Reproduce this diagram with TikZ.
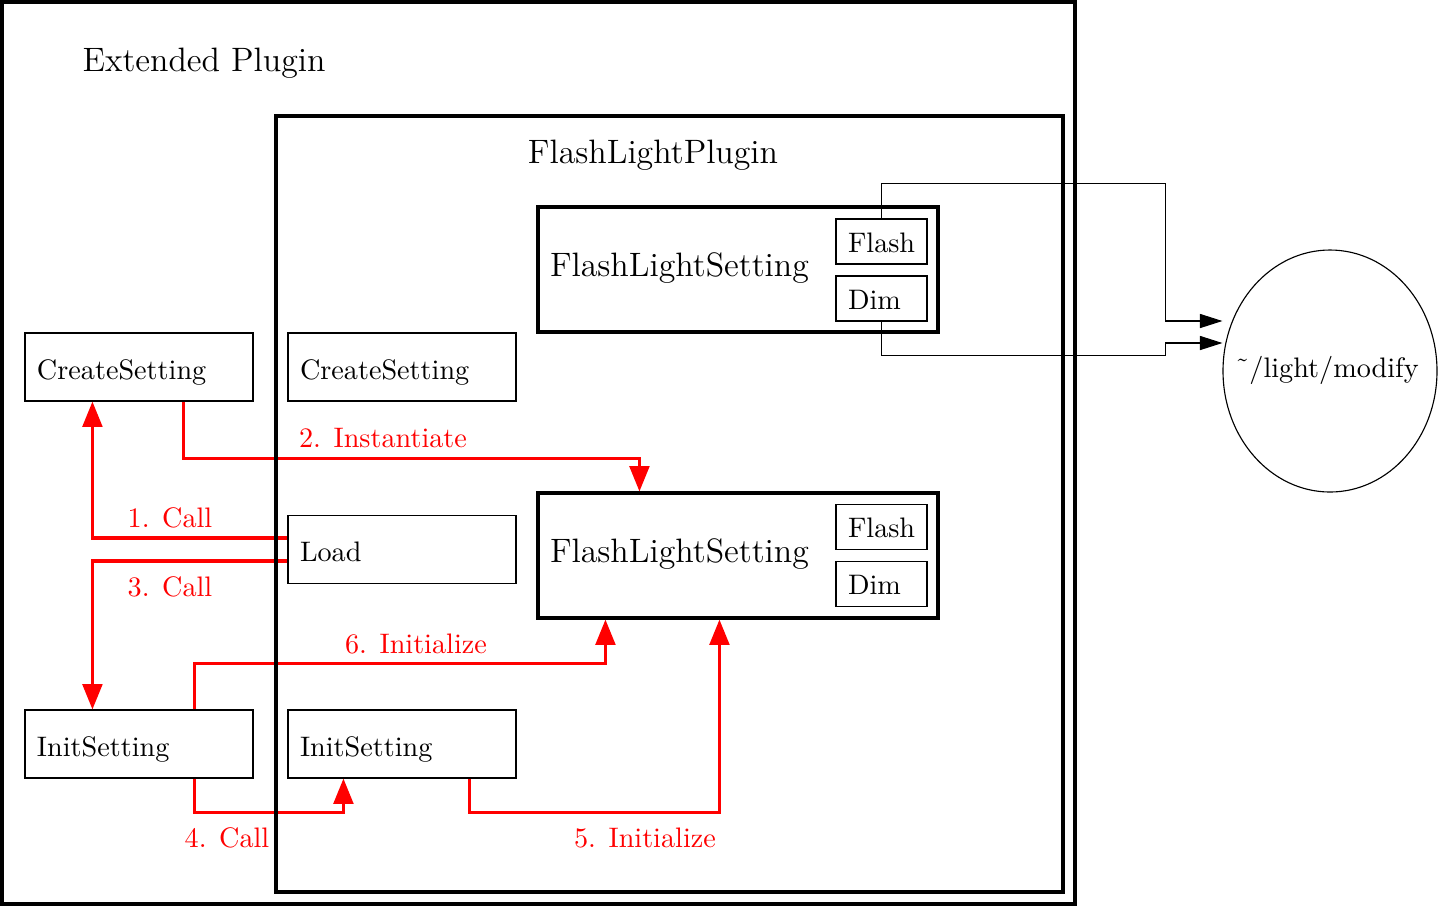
\documentclass[tikz,border=0pt]{standalone}
\usetikzlibrary{arrows.meta,calc,shapes.geometric}
\def\PX{0.3546pt}
\tikzset{
  box/.style={draw, line width=0.4pt, rectangle, inner sep=0pt, inner xsep=12*\PX,
    text width=204*\PX, align=left, minimum height=68*\PX, text height=9pt, text depth=0.5pt},
  flsbox/.style={draw, line width=1.1pt, rectangle, minimum width=400*\PX, minimum height=125*\PX, inner sep=0pt},
  smallbox/.style={draw, line width=0.4pt, rectangle, inner sep=0pt, inner xsep=12*\PX,
    text width=67*\PX, align=left, minimum height=45*\PX, text height=8pt, text depth=0.5pt},
  bigbox/.style={draw, line width=1.1pt, rectangle, inner sep=0pt},
  redarr/.style={draw=red, line width=1.1pt, -{Triangle[length=9pt,width=7pt]}},
  blkarr/.style={draw=black, line width=0.4pt, -{Triangle[length=8pt,width=5pt]}},
  redlbl/.style={text=red, inner sep=0pt},
}
\begin{document}
\begin{tikzpicture}[x=0.3546pt,y=-0.3546pt]
\useasboundingbox (0,0) rectangle (1439,906);
% setting boxes
\node[flsbox] (fls1) at (738,269.5) {};
\node[anchor=west, inner sep=0pt, font=\large] (fls1t) at ($(fls1.west)+(13,-1)$) {FlashLightSetting};
\node[smallbox] (flash1) at (881.5,241.5) {Flash};
\node[smallbox] (dim1) at (881.5,298.5) {Dim};
\node[flsbox] (fls2) at (738,555.5) {};
\node[anchor=west, inner sep=0pt, font=\large] (fls2t) at ($(fls2.west)+(13,-1)$) {FlashLightSetting};
\node[smallbox] (flash2) at (881.5,527) {Flash};
\node[smallbox] (dim2) at (881.5,584) {Dim};
% method boxes
\node[box] (cs1) at (139,367) {CreateSetting};
\node[box] (cs2) at (402,367) {CreateSetting};
\node[box] (load) at (402,549.5) {Load};
\node[box] (is1) at (139,744) {InitSetting};
\node[box] (is2) at (402,744) {InitSetting};
% topic
\node[draw, ellipse, line width=0.4pt, minimum width=214*\PX, minimum height=242*\PX, inner sep=0pt] (ell) at (1330,371) {};
\node[inner sep=0pt] (ellt) at (1327,370) {\symbol{"02DC}/light/modify};
% black connectors
\draw[blkarr] (flash1.north) -- ++(0,-35) -| ($(ell.west)+(-57,-50)$) -- ($(ell.west)+(0,-50)$);
\draw[blkarr] (dim1.south) -- ++(0,34) -| ($(ell.west)+(-57,-28)$) -- ($(ell.west)+(0,-28)$);
% red connectors
\draw[redarr] ($(load.west)+(0,-11.5)$) -| ($(cs1.south west)+(68,0)$);
\draw[redarr] ($(cs1.south west)+(159,0)$) -- ++(0,57) -| ($(fls2.north west)+(103,0)$);
\draw[redarr] ($(load.west)+(0,11.5)$) -| ($(is1.north west)+(68,0)$);
\draw[redarr] ($(is1.south west)+(170,0)$) -- ++(0,34) -| ($(is2.south west)+(56,0)$);
\draw[redarr] ($(is2.south west)+(182,0)$) -- ++(0,34) -| ($(fls2.south west)+(183,0)$);
\draw[redarr] ($(is1.north west)+(170,0)$) -- ++(0,-46) -| ($(fls2.south west)+(69,0)$);
\node[redlbl] (l1) at (170,518) {1. Call};
\node[redlbl] (l2) at (383,438) {2. Instantiate};
\node[redlbl] (l3) at (170,587) {3. Call};
\node[redlbl] (l4) at (227,838) {4. Call};
\node[redlbl] (l5) at (645,838) {5. Initialize};
\node[redlbl] (l6) at (416,644) {6. Initialize};
% containers
\node[bigbox, minimum width=1073*\PX, minimum height=902*\PX] (outer) at (538.5,453) {};
\node[bigbox, minimum width=787*\PX, minimum height=776*\PX] (inner) at (669.5,504) {};
\node[font=\large, inner sep=0pt] (outert) at (204,63) {Extended Plugin};
\node[font=\large, inner sep=0pt] (innert) at (653,155) {FlashLightPlugin};
\end{tikzpicture}
\end{document}
